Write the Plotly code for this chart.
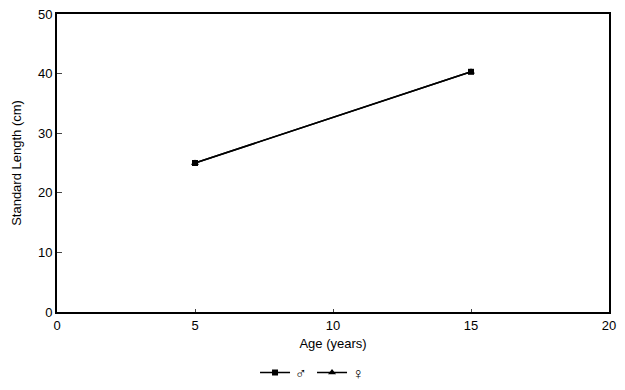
import plotly.graph_objects as go

ages = [5, 15]
male_sl = [25.0, 40.3]
female_sl = [25.0, 40.3]
x_ticks = [0, 5, 10, 15, 20]
y_ticks = [0, 10, 20, 30, 40, 50]

fig = go.Figure()
fig.add_trace(go.Scatter(x=ages, y=female_sl, mode="lines+markers", name="♀",
                         line=dict(color="black", width=1.5),
                         marker=dict(symbol="triangle-up", size=7, color="black")))
fig.add_trace(go.Scatter(x=ages, y=male_sl, mode="lines+markers", name="♂",
                         line=dict(color="black", width=1.5),
                         marker=dict(symbol="square", size=6, color="black")))

fig.update_layout(
    width=609, height=374,
    margin=dict(l=49, r=8, t=6, b=70),
    paper_bgcolor="white", plot_bgcolor="white",
    font=dict(family="Liberation Sans, Arial, sans-serif", size=13, color="black"),
    showlegend=True,
    legend=dict(orientation="h", x=0.462, xanchor="center", yref="container",
                y=0.025, yanchor="middle",
                traceorder="reversed", font=dict(size=16), itemwidth=30),
    xaxis=dict(range=[0, 20], tickvals=x_ticks, ticks="inside", ticklen=3,
               showline=True, linecolor="black", linewidth=2, mirror=True,
               showgrid=False, zeroline=False, automargin=False,
               ticklabeloverflow="allow",
               title=dict(text="Age (years)", standoff=7, font=dict(size=13))),
    yaxis=dict(range=[0, 50], tickvals=y_ticks, ticks="inside", ticklen=5,
               showline=True, linecolor="black", linewidth=2, mirror=True,
               showgrid=False, zeroline=False, automargin=False,
               ticklabeloverflow="allow",
               title=dict(text="Standard Length (cm)", standoff=13, font=dict(size=13))),
)

fig.write_html("out.html")
